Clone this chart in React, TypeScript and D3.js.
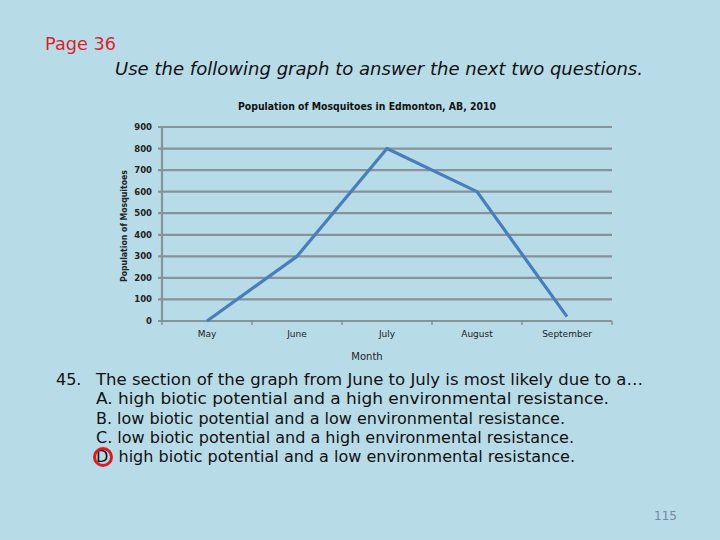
import React from "react";
import * as d3 from "d3";

const months = ["May", "June", "July", "August", "September"];
const population = [0, 300, 800, 600, 20];
const yTicks = [0, 100, 200, 300, 400, 500, 600, 700, 800, 900];
const questionLines = [
  "The section of the graph from June to July is most likely due to a…",
  "A. high biotic potential and a high environmental resistance.",
  "B. low biotic potential and a low environmental resistance.",
  "C. low biotic potential and a high environmental resistance.",
  "D. high biotic potential and a low environmental resistance.",
];
const lineWidths = [547, 513, 469, 478, 479];

export default function App() {
  const W = 720, H = 540;
  const left = 162, right = 612, top = 127, bottom = 321;
  const x = d3.scaleBand<string>().domain(months).range([left, right]);
  const y = d3.scaleLinear().domain([0, 900]).range([bottom, top]);
  const line = d3
    .line<number>()
    .x((_, i) => (x(months[i]) as number) + x.bandwidth() / 2)
    .y((d) => y(d));
  const font = "Tahoma, 'DejaVu Sans', sans-serif";
  const grid = "#87929a";
  const xTickPos = months.map((m) => x(m) as number).concat([right]);

  return (
    <svg
      width={W}
      height={H}
      style={{ position: "absolute", left: 0, top: 0, background: "#b7dce8" }}
      fontFamily={font}
    >
      <rect x={0} y={0} width={W} height={H} fill="#b7dce8" />
      <text x={45} y={50} fontSize={17} fill="#dd1f2b" textLength={71} lengthAdjust="spacingAndGlyphs">
        Page 36
      </text>
      <text
        x={115}
        y={75}
        fontSize={17}
        fontStyle="italic"
        fill="#111"
        textLength={528}
        lengthAdjust="spacingAndGlyphs"
      >
        Use the following graph to answer the next two questions.
      </text>

      <text x={367} y={110} fontSize={10.5} fontWeight="bold" textAnchor="middle" fill="#111" textLength={258} lengthAdjust="spacingAndGlyphs">
        Population of Mosquitoes in Edmonton, AB, 2010
      </text>

      {yTicks.map((t) => (
        <line key={t} x1={left - 4} x2={right} y1={y(t)} y2={y(t)} stroke={grid} strokeWidth={2.2} />
      ))}
      <line x1={left} x2={left} y1={top} y2={bottom} stroke={grid} strokeWidth={2.2} />
      {xTickPos.map((p, i) => (
        <line key={i} x1={p} x2={p} y1={bottom} y2={bottom + 4} stroke={grid} strokeWidth={1.5} />
      ))}

      {yTicks.map((t) => (
        <text key={t} x={152} y={y(t) + 3} fontSize={8.5} fontWeight="bold" textAnchor="end" fill="#222">
          {t}
        </text>
      ))}
      <text
        transform={`translate(127,${(top + bottom) / 2 + 2}) rotate(-90)`}
        fontSize={8}
        fontWeight="bold"
        textAnchor="middle"
        fill="#222"
        textLength={112}
        lengthAdjust="spacingAndGlyphs"
      >
        Population of Mosquitoes
      </text>

      {months.map((m) => (
        <text key={m} x={(x(m) as number) + x.bandwidth() / 2} y={337} fontSize={9} textAnchor="middle" fill="#222">
          {m}
        </text>
      ))}
      <text x={367} y={360} fontSize={10} textAnchor="middle" fill="#222">
        Month
      </text>

      <path d={line(population) || ""} fill="none" stroke="#4a7ebb" strokeWidth={3.2} strokeLinejoin="round" />

      <text x={56} y={385} fontSize={16} fill="#111">45.</text>
      {questionLines.map((l, i) => (
        <text
          key={i}
          x={96}
          y={385 + i * 19.3}
          fontSize={16}
          fill="#111"
          textLength={lineWidths[i]}
          lengthAdjust="spacingAndGlyphs"
        >
          {l}
        </text>
      ))}
      <circle cx={103} cy={457} r={8.5} fill="none" stroke="#e01a22" strokeWidth={3} />

      <text x={654} y={520} fontSize={12} fill="#74889a">115</text>
    </svg>
  );
}
